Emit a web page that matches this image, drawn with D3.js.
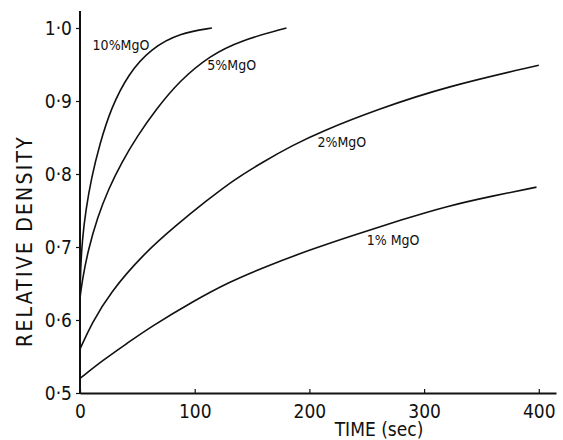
<!DOCTYPE html>
<html>
<head>
<meta charset="utf-8">
<script src="https://cdn.jsdelivr.net/npm/d3@7"></script>
<style>
  body { margin: 0; background: #fff; }
  svg { display: block; }
  text { font-family: "DejaVu Sans Condensed", "DejaVu Sans", sans-serif; fill: #111; }
</style>
</head>
<body>
<svg id="chart"></svg>
<script>
// values (time in sec, relative density)
const xTicks = [0, 100, 200, 300, 400];
const yTicks = [0.5, 0.6, 0.7, 0.8, 0.9, 1.0];

const mgo10 = [[0, 0.63], [0.5, 0.67], [2, 0.71], [5, 0.75], [10, 0.795], [17, 0.84],
  [27, 0.89], [42, 0.937], [62, 0.972], [87, 0.993], [115, 1.0]];
const mgo5 = [[0, 0.63], [2, 0.655], [7, 0.695], [15, 0.74], [25, 0.78], [36, 0.815],
  [50, 0.852], [66, 0.888], [87, 0.928], [113, 0.962], [140, 0.983], [180, 1.0]];
const mgo2 = [[0, 0.56], [10, 0.595], [26, 0.637], [55, 0.69], [84, 0.73], [110, 0.763],
  [134, 0.792], [160, 0.817], [185, 0.839], [210, 0.858], [260, 0.889], [320, 0.92],
  [400, 0.949]];
const mgo1 = [[0, 0.52], [20, 0.545], [41, 0.568], [61, 0.59], [99, 0.626], [130, 0.652],
  [160, 0.672], [200, 0.696], [240, 0.717], [280, 0.737], [320, 0.756], [360, 0.77],
  [398, 0.782]];

const seriesNames = ['10%MgO', '5%MgO', '2%MgO', '1% MgO'];
const seriesData = [mgo10, mgo5, mgo2, mgo1];
// where each label sits, in data units (left edge, baseline)
const labelPos = [[11, 0.97], [111, 0.943], [207, 0.837], [250, 0.703]];

function renderChart(svg) {
  svg = d3.select(svg);
  let width = 563, height = 440;
  svg.attr('width', width).attr('height', height);

  let x = d3.scaleLinear().domain([0, 415]).range([80, 556]);
  let y = d3.scaleLinear().domain([0.5, 1.0]).range([393, 28]);
  let yTop = 11;

  let fmt = d => d3.format('.1f')(d).replace('.', '\u00b7');

  // x axis, ticks pointing up into the plot
  let xAxis = svg.append('g')
    .attr('transform', 'translate(0,' + y(0.5) + ')')
    .call(d3.axisBottom(x).tickValues(xTicks).tickSizeInner(-4).tickSizeOuter(0).tickPadding(12));
  xAxis.select('.domain').attr('stroke', '#111').attr('stroke-width', 2);
  xAxis.selectAll('.tick line').attr('stroke', '#111').attr('stroke-width', 1.2);
  xAxis.selectAll('text').attr('font-size', 19).attr('fill', '#111')
    .attr('font-family', '"DejaVu Sans Condensed", "DejaVu Sans", sans-serif');

  // y axis
  let yAxis = svg.append('g')
    .attr('transform', 'translate(' + x(0) + ',0)')
    .call(d3.axisLeft(y).tickValues(yTicks).tickFormat(fmt).tickSizeInner(4).tickSizeOuter(0).tickPadding(4));
  yAxis.select('.domain').remove();
  yAxis.append('line')
    .attr('y1', yTop).attr('y2', y(0.5) + 1)
    .attr('stroke', '#111').attr('stroke-width', 2);
  yAxis.selectAll('.tick line').attr('stroke', '#111').attr('stroke-width', 1.2);
  yAxis.selectAll('text').attr('font-size', 19).attr('fill', '#111')
    .attr('font-family', '"DejaVu Sans Condensed", "DejaVu Sans", sans-serif');

  // curves
  let line = d3.line()
    .x(d => x(d[0]))
    .y(d => y(d[1]))
    .curve(d3.curveBasis);

  svg.append('g')
    .selectAll('path')
    .data(seriesData)
    .enter()
    .append('path')
    .attr('d', line)
    .attr('fill', 'none')
    .attr('stroke', '#111')
    .attr('stroke-width', 1.6);

  svg.append('g')
    .selectAll('text')
    .data(seriesNames)
    .enter()
    .append('text')
    .attr('x', (d, i) => x(labelPos[i][0]))
    .attr('y', (d, i) => y(labelPos[i][1]))
    .attr('font-size', 14)
    .text(d => d);

  // axis titles
  svg.append('text')
    .attr('x', 379)
    .attr('y', 436)
    .attr('text-anchor', 'middle')
    .attr('font-size', 19)
    .text('TIME (sec)');

  svg.append('text')
    .attr('transform', 'translate(32,241) rotate(-90)')
    .attr('text-anchor', 'middle')
    .attr('font-size', 21)
    .attr('letter-spacing', 2.2)
    .text('RELATIVE DENSITY');
}

renderChart(document.getElementById('chart'));
</script>
</body>
</html>
